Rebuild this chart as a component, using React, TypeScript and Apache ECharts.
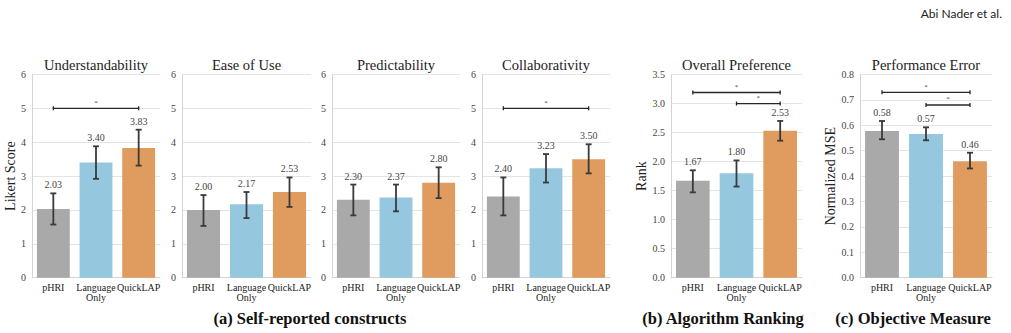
import React, { useEffect, useRef } from "react";
import * as echarts from "echarts";

// ---------- data ----------
const categories = ["pHRI", "Language\nOnly", "QuickLAP"];
const panelTitles = ["Understandability", "Ease of Use", "Predictability", "Collaborativity", "Overall Preference", "Performance Error"];

const understandMean = [2.03, 3.4, 3.83];
const understandLow = [1.57, 2.92, 3.31];
const understandHigh = [2.49, 3.88, 4.37];

const easeMean = [2.0, 2.17, 2.53];
const easeLow = [1.53, 1.76, 2.09];
const easeHigh = [2.44, 2.53, 2.96];

const predictMean = [2.3, 2.37, 2.8];
const predictLow = [1.84, 1.96, 2.35];
const predictHigh = [2.75, 2.75, 3.26];

const collabMean = [2.4, 3.23, 3.5];
const collabLow = [1.84, 2.81, 3.08];
const collabHigh = [2.96, 3.65, 3.94];

const prefMean = [1.67, 1.8, 2.53];
const prefLow = [1.47, 1.57, 2.36];
const prefHigh = [1.85, 2.02, 2.7];

const perfMean = [0.578, 0.566, 0.458];
const perfLow = [0.545, 0.541, 0.43];
const perfHigh = [0.617, 0.592, 0.492];

// significance brackets: [fromCategory, toCategory, y]
const understandSig = [[0, 2, 5.0]];
const easeSig: number[][] = [];
const predictSig: number[][] = [];
const collabSig = [[0, 2, 5.0]];
const prefSig = [[0, 2, 3.19], [1, 2, 3.0]];
const perfSig = [[0, 2, 0.73], [1, 2, 0.68]];

const likertTicks = { min: 0, max: 6, interval: 1, decimals: 0 };
const rankTicks = { min: 0, max: 3.5, interval: 0.5, decimals: 1 };
const mseTicks = { min: 0, max: 0.8, interval: 0.1, decimals: 1 };

const captions = ["(a) Self-reported constructs", "(b) Algorithm Ranking", "(c) Objective Measure"];
const headerText = "Abi Nader et al.";

// ---------- styling / layout ----------
const barColors = ["#a9a9a9", "#95c8de", "#e09b5e"];
const SERIF = "Liberation Serif";

const panels = [
  { mean: understandMean, low: understandLow, high: understandHigh, sig: understandSig, ticks: likertTicks, name: "Likert Score", nameGap: 13, left: 32, width: 128 },
  { mean: easeMean, low: easeLow, high: easeHigh, sig: easeSig, ticks: likertTicks, name: "", nameGap: 0, left: 182, width: 129 },
  { mean: predictMean, low: predictLow, high: predictHigh, sig: predictSig, ticks: likertTicks, name: "", nameGap: 0, left: 332, width: 128 },
  { mean: collabMean, low: collabLow, high: collabHigh, sig: collabSig, ticks: likertTicks, name: "", nameGap: 0, left: 482, width: 128 },
  { mean: prefMean, low: prefLow, high: prefHigh, sig: prefSig, ticks: rankTicks, name: "Rank", nameGap: 21, left: 671, width: 131 },
  { mean: perfMean, low: perfLow, high: perfHigh, sig: perfSig, ticks: mseTicks, name: "Normalized MSE", nameGap: 18, left: 860, width: 132 },
];

const GRID_TOP = 74.5;
const GRID_H = 203.2;
const captionX = [310, 723, 913];

function buildOption() {
  const grid: any[] = [];
  const xAxis: any[] = [];
  const yAxis: any[] = [];
  const series: any[] = [];
  const graphic: any[] = [];

  panels.forEach((p, i) => {
    grid.push({ left: p.left, top: GRID_TOP, width: p.width, height: GRID_H, containLabel: false });
    xAxis.push({
      type: "category",
      gridIndex: i,
      data: categories,
      axisTick: { show: false },
      axisLine: { show: true, lineStyle: { color: "#d4d4d4", width: 1 } },
      axisLabel: { interval: 0, fontFamily: SERIF, fontSize: 10, color: "#222", margin: 5, lineHeight: 10 },
    });
    const dec = p.ticks.decimals;
    yAxis.push({
      type: "value",
      gridIndex: i,
      min: p.ticks.min,
      max: p.ticks.max,
      interval: p.ticks.interval,
      axisLine: { show: true, lineStyle: { color: "#d4d4d4", width: 1 } },
      axisTick: { show: false },
      splitLine: { show: true, lineStyle: { color: "#e4e4e4", width: 1 } },
      axisLabel: {
        fontFamily: SERIF,
        fontSize: 10,
        color: "#444",
        margin: 6,
        formatter: (v: number) => v.toFixed(dec),
      },
      name: p.name,
      nameLocation: "middle",
      nameGap: p.nameGap,
      nameRotate: 90,
      nameTextStyle: { fontFamily: SERIF, fontSize: 14, color: "#222" },
    });
    series.push({
      type: "bar",
      xAxisIndex: i,
      yAxisIndex: i,
      barWidth: "77%",
      data: p.mean.map((v, j) => ({ value: v, itemStyle: { color: barColors[j] } })),
      silent: true,
    });
    series.push({
      type: "custom",
      xAxisIndex: i,
      yAxisIndex: i,
      encode: { x: 0, y: [1, 2] },
      z: 10,
      silent: true,
      clip: false,
      data: p.mean.map((m, j) => [j, p.low[j], p.high[j], m]),
      renderItem: (params: any, api: any) => {
        const x = api.value(0);
        const hi = api.coord([x, api.value(2)]);
        const lo = api.coord([x, api.value(1)]);
        const m = api.value(3) as number;
        const cap = 3;
        const stroke = "#3a3a3a";
        return {
          type: "group",
          children: [
            { type: "line", shape: { x1: hi[0], y1: hi[1], x2: lo[0], y2: lo[1] }, style: { stroke, lineWidth: 1.8 } },
            { type: "line", shape: { x1: hi[0] - cap, y1: hi[1], x2: hi[0] + cap, y2: hi[1] }, style: { stroke, lineWidth: 1.8 } },
            { type: "line", shape: { x1: lo[0] - cap, y1: lo[1], x2: lo[0] + cap, y2: lo[1] }, style: { stroke, lineWidth: 1.8 } },
            {
              type: "text",
              x: hi[0],
              y: hi[1] - 3.5,
              style: { text: m.toFixed(2), align: "center", verticalAlign: "bottom", fontFamily: SERIF, fontSize: 10, fill: "#444" },
            },
          ],
        };
      },
    });
    if (p.sig.length) {
      series.push({
        type: "custom",
        xAxisIndex: i,
        yAxisIndex: i,
        encode: { x: 0, y: 2 },
        z: 11,
        silent: true,
        clip: false,
        data: p.sig,
        renderItem: (params: any, api: any) => {
          const a = api.coord([api.value(0), api.value(2)]);
          const b = api.coord([api.value(1), api.value(2)]);
          const stroke = "#262626";
          return {
            type: "group",
            children: [
              { type: "line", shape: { x1: a[0], y1: a[1], x2: b[0], y2: b[1] }, style: { stroke, lineWidth: 1.3 } },
              { type: "line", shape: { x1: a[0], y1: a[1] - 2, x2: a[0], y2: a[1] + 2 }, style: { stroke, lineWidth: 1.3 } },
              { type: "line", shape: { x1: b[0], y1: b[1] - 2, x2: b[0], y2: b[1] + 2 }, style: { stroke, lineWidth: 1.3 } },
              {
                type: "text",
                x: (a[0] + b[0]) / 2,
                y: a[1] - 2,
                style: { text: "*", align: "center", verticalAlign: "bottom", fontFamily: SERIF, fontSize: 7, fill: "#444" },
              },
            ],
          };
        },
      });
    }
    graphic.push({
      type: "text",
      x: p.left + p.width / 2,
      y: 65,
      style: { text: panelTitles[i], align: "center", verticalAlign: "middle", fontFamily: SERIF, fontSize: 14.5, fill: "#222" },
    });
  });

  captions.forEach((c, k) => {
    graphic.push({
      type: "text",
      x: captionX[k],
      y: 318,
      style: { text: c, align: "center", verticalAlign: "middle", fontFamily: SERIF, fontWeight: "bold", fontSize: 16.5, fill: "#111" },
    });
  });
  graphic.push({
    type: "text",
    x: 1002,
    y: 13,
    style: { text: headerText, align: "right", verticalAlign: "middle", fontFamily: "Lato", fontSize: 12, fill: "#222" },
  });

  return {
    animation: false,
    backgroundColor: "#fff",
    textStyle: { fontFamily: SERIF },
    grid,
    xAxis,
    yAxis,
    series,
    graphic,
  };
}

export default function App() {
  const ref = useRef<HTMLDivElement>(null);
  useEffect(() => {
    if (!ref.current) return;
    const chart = echarts.init(ref.current, null, { renderer: "svg" });
    chart.setOption(buildOption() as any);
    return () => chart.dispose();
  }, []);
  return <div ref={ref} style={{ position: "absolute", left: 0, top: 0, width: 1011, height: 333, background: "#fff" }} />;
}
